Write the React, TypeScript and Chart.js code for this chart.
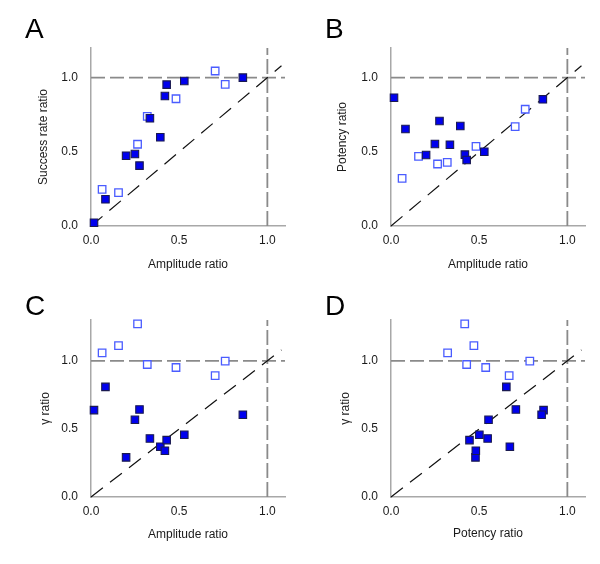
import React, { useEffect, useRef } from "react";
import { Chart, registerables } from "chart.js";

Chart.register(...registerables);

// Filled squares
const filledAmplitude = [0.017, 0.082, 0.199, 0.249, 0.275, 0.334, 0.393, 0.419, 0.429, 0.529, 0.861];
const filledSuccess = [0.022, 0.18, 0.474, 0.485, 0.407, 0.726, 0.598, 0.876, 0.953, 0.978, 1.0];
const filledPotency = [0.865, 0.654, 0.479, 0.553, 0.708, 0.548, 0.674, 0.481, 0.445, 0.501, 0.854];
const filledGamma = [0.638, 0.809, 0.291, 0.567, 0.643, 0.43, 0.369, 0.34, 0.418, 0.457, 0.604];

// Open squares
const openAmplitude = [0.063, 0.156, 0.264, 0.319, 0.482, 0.704, 0.761];
const openSuccess = [0.247, 0.225, 0.551, 0.739, 0.858, 1.045, 0.955];
const openPotency = [0.321, 0.47, 0.418, 0.429, 0.537, 0.67, 0.787];
const openGamma = [1.059, 1.112, 1.271, 0.973, 0.951, 0.892, 0.998];

const tickValues = [0, 0.5, 1.0];
const panelLetters = ["A", "B", "C", "D"];
const xTitles = ["Amplitude ratio", "Amplitude ratio", "Amplitude ratio", "Potency ratio"];
const yTitles = ["Success rate ratio", "Potency ratio", "\u03b3 ratio", "\u03b3 ratio"];

const X_MAX = 1.1;
const DIAG_END = 1.08;
const FONT = "'Liberation Sans', Arial, Helvetica, sans-serif";

type PanelCfg = {
  letter: string;
  fx: number[];
  fy: number[];
  ox: number[];
  oy: number[];
  xTitle: string;
  yTitle: string;
  yMax: number;
  top: number;
  xHeight: number;
  xTitlePad: number;
  yTitlePad: number;
  letterBase: number;
};

const panels: PanelCfg[] = [
  { letter: panelLetters[0], fx: filledAmplitude, fy: filledSuccess, ox: openAmplitude, oy: openSuccess, xTitle: xTitles[0], yTitle: yTitles[0], yMax: 1.2, top: 48, xHeight: 56, xTitlePad: 10, yTitlePad: 36, letterBase: 38 },
  { letter: panelLetters[1], fx: filledAmplitude, fy: filledPotency, ox: openAmplitude, oy: openPotency, xTitle: xTitles[1], yTitle: yTitles[1], yMax: 1.2, top: 48, xHeight: 56, xTitlePad: 10, yTitlePad: 35, letterBase: 38 },
  { letter: panelLetters[2], fx: filledAmplitude, fy: filledGamma, ox: openAmplitude, oy: openGamma, xTitle: xTitles[2], yTitle: yTitles[2], yMax: 1.3, top: 38, xHeight: 67, xTitlePad: 22, yTitlePad: 38, letterBase: 33 },
  { letter: panelLetters[3], fx: filledPotency, fy: filledGamma, ox: openPotency, oy: openGamma, xTitle: xTitles[3], yTitle: yTitles[3], yMax: 1.3, top: 38, xHeight: 67, xTitlePad: 23, yTitlePad: 38, letterBase: 33 },
];

function Panel({ cfg }: { cfg: PanelCfg }) {
  const ref = useRef<HTMLCanvasElement | null>(null);
  useEffect(() => {
    if (!ref.current) return;
    const letterPlugin = {
      id: "letter",
      afterDraw(chart: any) {
        const ctx = chart.ctx;
        ctx.save();
        ctx.fillStyle = "#000";
        ctx.font = `28px ${FONT}`;
        ctx.textBaseline = "alphabetic";
        ctx.textAlign = "left";
        ctx.fillText(cfg.letter, 25, cfg.letterBase);
        ctx.restore();
      },
    };
    const gray = "#8a8a8a";
    const chart = new Chart(ref.current, {
      type: "scatter",
      data: {
        datasets: [
          {
            label: "filled",
            data: cfg.fx.map((x, i) => ({ x, y: cfg.fy[i] })),
            pointStyle: "rect",
            pointRadius: 5.3,
            backgroundColor: "#0000ee",
            borderColor: "#1a1a50",
            borderWidth: 1.1,
            clip: false,
          } as any,
          {
            label: "open",
            data: cfg.ox.map((x, i) => ({ x, y: cfg.oy[i] })),
            pointStyle: "rect",
            pointRadius: 5.3,
            backgroundColor: "#ffffff",
            borderColor: "#4a5cff",
            borderWidth: 1.3,
            clip: false,
          } as any,
          {
            label: "diag",
            data: [{ x: 0, y: 0 }, { x: DIAG_END, y: DIAG_END }],
            showLine: true,
            borderColor: "#111",
            borderWidth: 1.2,
            borderDash: [15, 9],
            pointRadius: 0,
            clip: false,
          } as any,
          {
            label: "h1",
            data: [{ x: 0, y: 1 }, { x: X_MAX, y: 1 }],
            showLine: true,
            borderColor: gray,
            borderWidth: 1.8,
            borderDash: [14, 5],
            pointRadius: 0,
            clip: false,
          } as any,
          {
            label: "v1",
            data: [{ x: 1, y: 0 }, { x: 1, y: cfg.yMax }],
            showLine: true,
            borderColor: gray,
            borderWidth: 1.8,
            borderDash: [15, 4],
            pointRadius: 0,
            clip: false,
          } as any,
        ],
      },
      options: {
        responsive: false,
        animation: false,
        devicePixelRatio: 1,
        layout: { padding: { left: 0, top: cfg.top, right: 15, bottom: 0 } },
        plugins: { legend: { display: false }, tooltip: { enabled: false } },
        scales: {
          x: {
            type: "linear",
            min: 0,
            max: X_MAX,
            afterBuildTicks: (s: any) => {
              s.ticks = tickValues.map((v) => ({ value: v }));
            },
            afterFit: (s: any) => {
              s.height = cfg.xHeight;
            },
            ticks: {
              callback: (v: any) => Number(v).toFixed(1),
              color: "#1a1a1a",
              font: { size: 12, family: FONT },
              padding: 7,
              maxRotation: 0,
              autoSkip: false,
            },
            grid: { display: false, drawTicks: false },
            border: { display: true, color: "#a8a8a8", width: 1.5 },
            title: {
              display: true,
              text: cfg.xTitle,
              color: "#1a1a1a",
              font: { size: 12, family: FONT },
              padding: { top: 0, bottom: cfg.xTitlePad },
            },
          },
          y: {
            type: "linear",
            min: 0,
            max: cfg.yMax,
            afterBuildTicks: (s: any) => {
              s.ticks = tickValues.map((v) => ({ value: v }));
            },
            afterFit: (s: any) => {
              s.width = 91;
            },
            ticks: {
              callback: (v: any) => Number(v).toFixed(1),
              color: "#1a1a1a",
              font: { size: 12, family: FONT },
              padding: 13,
              autoSkip: false,
            },
            grid: { display: false, drawTicks: false },
            border: { display: true, color: "#a8a8a8", width: 1.5 },
            title: {
              display: true,
              text: cfg.yTitle,
              color: "#1a1a1a",
              font: { size: 12, family: FONT },
              padding: { top: cfg.yTitlePad, bottom: 0 },
            },
          },
        },
      } as any,
      plugins: [letterPlugin],
    });
    return () => chart.destroy();
  }, [cfg]);
  return <canvas ref={ref} width={300} height={282} style={{ display: "block", width: 300, height: 282 }} />;
}

export default function App() {
  return (
    <div
      style={{
        position: "absolute",
        left: 0,
        top: 0,
        width: 600,
        height: 564,
        background: "#fff",
        display: "grid",
        gridTemplateColumns: "300px 300px",
        gridTemplateRows: "282px 282px",
      }}
    >
      {panels.map((p) => (
        <Panel key={p.letter} cfg={p} />
      ))}
    </div>
  );
}
